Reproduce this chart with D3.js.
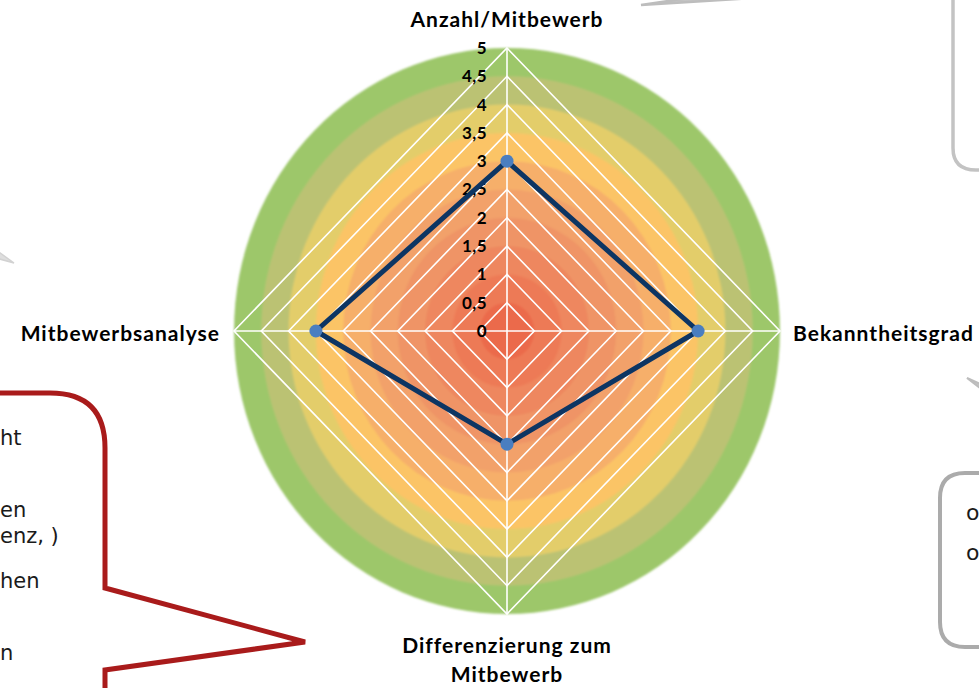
<!DOCTYPE html>
<html>
<head>
<meta charset="utf-8">
<script src="https://cdn.jsdelivr.net/npm/d3@7"></script>
<style>
  html, body { margin: 0; padding: 0; background: #fff; }
  svg { display: block; }
</style>
</head>
<body>
<svg id="chart" width="979" height="688"></svg>
<script>
// Radar: four criteria, scored 0–5
const categories = ["Anzahl/Mitbewerb", "Bekanntheitsgrad", "Differenzierung zum Mitbewerb", "Mitbewerbsanalyse"];
const labelLines = [["Anzahl/Mitbewerb"], ["Bekanntheitsgrad"], ["Differenzierung zum", "Mitbewerb"], ["Mitbewerbsanalyse"]];
const values = [3, 3.5, 2, 3.5];
const tickValues = [0, 0.5, 1, 1.5, 2, 2.5, 3, 3.5, 4, 4.5, 5];
const tickLabels = ["0", "0,5", "1", "1,5", "2", "2,5", "3", "3,5", "4", "4,5", "5"];
// background rings, inner (0–0.5) to outer (4.5–5)
const bandColors = ["#eb6a4c", "#ed7a56", "#ee875e", "#ef9466", "#f2a16a", "#f6af6b", "#fbc466", "#e3cd6b", "#bbc273", "#9dc76b"];

// callout fragments at the page edges
const leftNote = ["ht", "en", "enz, )", "hen", "n"];
const rightNote = ["o", "o"];

const svg = d3.select("#chart");
const cx = 507, cy = 331;
const rX = d3.scaleLinear().domain([0, 5]).range([0, 273]);
const rY = d3.scaleLinear().domain([0, 5]).range([0, 283]);
// directions: top, right, bottom, left
const dirs = [[0, -1], [1, 0], [0, 1], [-1, 0]];
const pt = (i, v) => [cx + dirs[i][0] * rX(v), cy + dirs[i][1] * rY(v)];

// --- callout bubbles ---
const callouts = svg.append("g").attr("fill", "none");
// red bubble, lower left
callouts.append("path")
  .attr("d", "M -10 393 L 50 393 Q 105 393 105 448 L 105 588 L 305 642 L 105 670 L 105 700")
  .attr("stroke", "#a91b1b").attr("stroke-width", 5).attr("stroke-linejoin", "miter");
// grey bubble, upper right
callouts.append("path")
  .attr("d", "M 953 -10 L 953 148 Q 953 170 976 170 L 990 170")
  .attr("stroke", "#c3c3c3").attr("stroke-width", 3.5);
callouts.append("path")
  .attr("d", "M 770 -14 L 641 5 L 770 -3")
  .attr("stroke", "#bdbdbd").attr("stroke-width", 2.5).attr("fill", "#c4c4c4");
// grey bubble, lower right
callouts.append("path")
  .attr("d", "M 990 473 L 965 473 Q 940 473 940 498 L 940 622 Q 940 647 965 647 L 990 647")
  .attr("stroke", "#ababab").attr("stroke-width", 4);
callouts.append("path")
  .attr("d", "M 985 392 L 967 378 L 985 386")
  .attr("stroke", "#bdbdbd").attr("stroke-width", 2).attr("fill", "#c4c4c4");
// faint pointer tip at the left edge
callouts.append("path")
  .attr("d", "M -4 250 L 14 263 L -4 258")
  .attr("stroke", "#d2d2d2").attr("stroke-width", 1.5).attr("fill", "#dedede");

const noteFont = "'DejaVu Sans', 'Noto Sans', sans-serif";
const leftY = [445, 517, 543, 588, 660];
svg.append("g").selectAll("text").data(leftNote).join("text")
  .attr("x", 0).attr("y", (d, i) => leftY[i])
  .attr("font-family", noteFont).attr("font-size", 21).attr("fill", "#1a1a1a")
  .text(d => d);
svg.append("g").selectAll("text").data(rightNote).join("text")
  .attr("x", 966).attr("y", (d, i) => [520, 560][i])
  .attr("font-family", noteFont).attr("font-size", 22).attr("fill", "#1a1a1a")
  .text(d => d);

// --- coloured rings ---
const defs = svg.append("defs");
defs.append("filter").attr("id", "soft")
  .attr("x", "-5%").attr("y", "-5%").attr("width", "110%").attr("height", "110%")
  .append("feGaussianBlur").attr("stdDeviation", 1.2);
const bands = svg.append("g").attr("filter", "url(#soft)");
const bandData = bandColors.map((c, i) => ({ c, r: (i + 1) * 0.5 })).reverse();
bands.selectAll("ellipse").data(bandData).join("ellipse")
  .attr("cx", cx).attr("cy", cy)
  .attr("rx", d => rX(d.r)).attr("ry", d => rY(d.r))
  .attr("fill", d => d.c);

// --- grid diamonds and spokes ---
const grid = svg.append("g").attr("fill", "none").attr("stroke", "#ffffff").attr("stroke-width", 1.6);
const line = d3.line();
grid.selectAll("path.ring").data(tickValues.filter(v => v > 0)).join("path")
  .attr("class", "ring")
  .attr("d", v => line([0, 1, 2, 3].map(i => pt(i, v))) + "Z");
grid.selectAll("line").data([0, 1, 2, 3]).join("line")
  .attr("x1", cx).attr("y1", cy)
  .attr("x2", i => pt(i, 5)[0]).attr("y2", i => pt(i, 5)[1]);

// --- tick labels on the vertical axis ---
const labelFont = "Lato, 'Open Sans', sans-serif";
svg.append("g").selectAll("text").data(tickValues).join("text")
  .attr("x", cx - 20)
  .attr("y", v => cy - rY(v))
  .attr("dy", "0.35em")
  .attr("text-anchor", "end")
  .attr("font-family", labelFont).attr("font-weight", 700).attr("font-size", 17)
  .attr("letter-spacing", 0.4)
  .attr("fill", "#000")
  .text((v, i) => tickLabels[i]);

// --- data polygon ---
const polyPts = values.map((v, i) => pt(i, v));
svg.append("path")
  .attr("d", line(polyPts) + "Z")
  .attr("fill", "none").attr("stroke", "#0d3563").attr("stroke-width", 5)
  .attr("stroke-linejoin", "miter");
svg.append("g").selectAll("circle").data(polyPts).join("circle")
  .attr("cx", d => d[0]).attr("cy", d => d[1]).attr("r", 6.5)
  .attr("fill", "#4a7ec0");

// --- category labels ---
const catPos = [
  { x: cx, y: 27, anchor: "middle" },
  { x: 793, y: 341, anchor: "start" },
  { x: cx, y: 653, anchor: "middle" },
  { x: 220, y: 341, anchor: "end" }
];
const catG = svg.append("g")
  .attr("font-family", labelFont).attr("font-weight", 700).attr("font-size", 21)
  .attr("letter-spacing", 1).attr("fill", "#000");
categories.forEach((c, i) => {
  const t = catG.append("text")
    .attr("x", catPos[i].x).attr("y", catPos[i].y)
    .attr("text-anchor", catPos[i].anchor);
  labelLines[i].forEach((ln, j) => {
    t.append("tspan").attr("x", catPos[i].x).attr("dy", j === 0 ? 0 : 29).text(ln);
  });
});
</script>
</body>
</html>
